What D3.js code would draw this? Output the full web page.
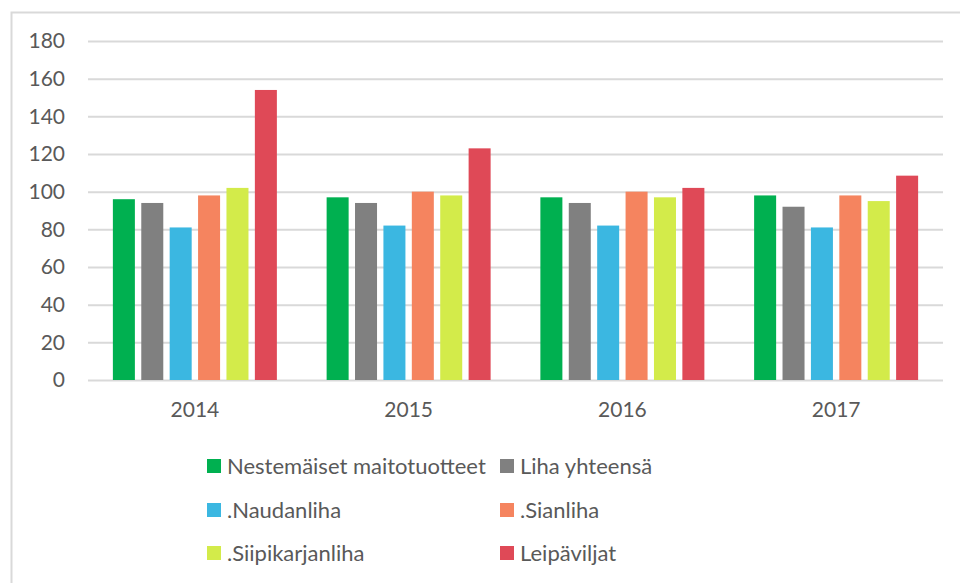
<!DOCTYPE html>
<html>
<head>
<meta charset="utf-8">
<script src="https://cdn.jsdelivr.net/npm/d3@7"></script>
<style>
  body { margin: 0; background: #fff; }
  svg { display: block; font-family: Lato, "Open Sans", sans-serif; }
</style>
</head>
<body>
<div id="chart"></div>
<script>
// Chart data
let years = ["2014", "2015", "2016", "2017"];
let series_names = ["Nestemäiset maitotuotteet", "Liha yhteensä", ".Naudanliha", ".Sianliha", ".Siipikarjanliha", "Leipäviljat"];
let series_colors = ["#00b050", "#808080", "#3bb7e1", "#f5845f", "#d3eb4a", "#df4957"];
let maito = [96, 97, 97, 98];
let liha = [94, 94, 94, 92];
let nauta = [81, 82, 82, 81];
let sika = [98, 100, 100, 98];
let siipikarja = [102, 98, 97, 95];
let leipavilja = [154, 123, 102, 108.5];
let y_ticks = [0, 20, 40, 60, 80, 100, 120, 140, 160, 180];

let values = [maito, liha, nauta, sika, siipikarja, leipavilja];

function BuildGraph(){
  let chart_width = 960;
  let chart_height = 583;
  let left = 88, right = 943, top = 41, bottom = 380;

  let svg = d3.select('#chart')
    .append('svg')
    .attr('width', chart_width)
    .attr('height', chart_height);

  // Outer frame (top and left edges visible)
  svg.append('path')
    .attr('d', 'M11.5,' + chart_height + 'V12.5H' + chart_width)
    .attr('fill', 'none')
    .attr('stroke', '#d9d9d9')
    .attr('stroke-width', 2);

  // Scales
  let x0 = d3.scaleBand()
    .domain(years)
    .range([left, right]);

  let inner_pad = (x0.bandwidth() - 164) / 2;
  let x1 = d3.scaleBand()
    .domain(d3.range(series_names.length))
    .range([inner_pad, x0.bandwidth() - inner_pad])
    .paddingInner(0.225);

  let y = d3.scaleLinear()
    .domain([0, 180])
    .range([bottom, top]);

  // Gridlines and y labels
  let y_axis = d3.axisLeft(y)
    .tickValues(y_ticks)
    .tickSize(-(right - left))
    .tickPadding(23);
  let gy = svg.append('g')
    .attr('transform', 'translate(' + left + ',0)')
    .call(y_axis);
  gy.select('.domain').remove();
  gy.selectAll('.tick line')
    .attr('stroke', '#d9d9d9')
    .attr('stroke-width', 2);
  gy.selectAll('.tick text')
    .attr('fill', '#595959')
    .style('font-size', '21px')
    .style('font-family', 'Lato, sans-serif');

  // Bars
  let groups = svg.selectAll('g.year')
    .data(years)
    .enter()
    .append('g')
    .attr('class', 'year')
    .attr('transform', (d) => 'translate(' + x0(d) + ',0)');

  groups.selectAll('rect')
    .data((d, i) => values.map((v, s) => ({ s: s, v: v[i] })))
    .enter()
    .append('rect')
    .attr('x', (d) => x1(d.s))
    .attr('width', x1.bandwidth())
    .attr('y', (d) => y(d.v))
    .attr('height', (d) => y(0) - y(d.v))
    .attr('fill', (d) => series_colors[d.s]);

  // X axis labels
  let x_axis = d3.axisBottom(x0).tickSize(0).tickPadding(22);
  let gx = svg.append('g')
    .attr('transform', 'translate(0,' + bottom + ')')
    .call(x_axis);
  gx.select('.domain').remove();
  gx.selectAll('.tick text')
    .attr('fill', '#595959')
    .style('font-size', '21px')
    .style('font-family', 'Lato, sans-serif');

  // Legend
  let legend_pos = [
    [207, 466], [500, 466],
    [207, 510], [500, 510],
    [207, 553], [500, 553]
  ];
  let legend = svg.append('g').attr('id', 'legend');
  let items = legend.selectAll('g')
    .data(series_names)
    .enter()
    .append('g')
    .attr('transform', (d, i) => 'translate(' + legend_pos[i][0] + ',' + legend_pos[i][1] + ')');
  items.append('rect')
    .attr('x', 0)
    .attr('y', -7)
    .attr('width', 14)
    .attr('height', 14)
    .attr('fill', (d, i) => series_colors[i]);
  items.append('text')
    .attr('x', 20)
    .attr('y', 0)
    .attr('dy', '0.35em')
    .attr('fill', '#595959')
    .style('font-size', '22px')
    .text((d) => d);
}

document.addEventListener('DOMContentLoaded', function(){
  BuildGraph();
});
</script>
</body>
</html>
